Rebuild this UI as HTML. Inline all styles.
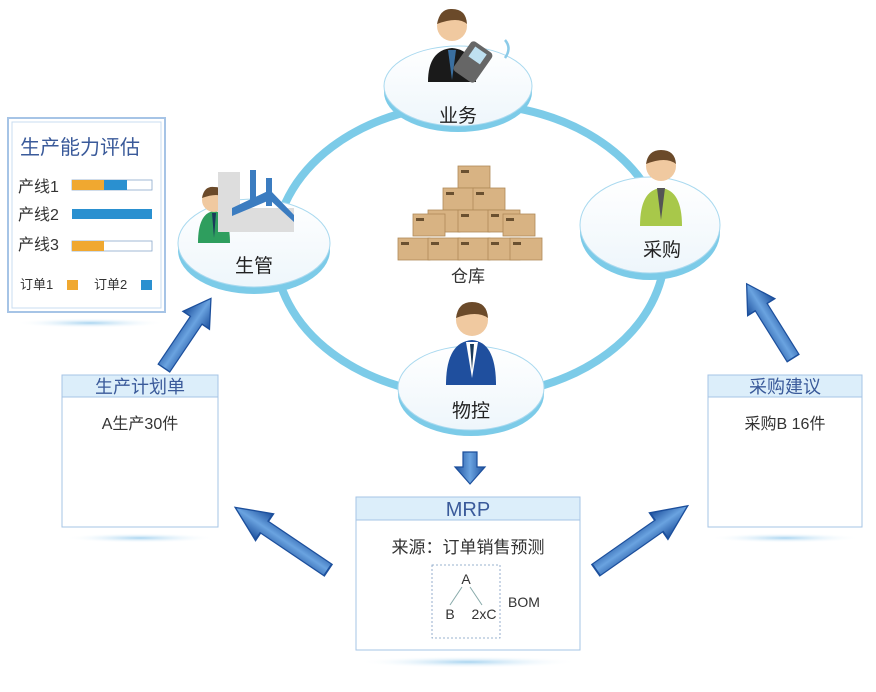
<!DOCTYPE html>
<html><head><meta charset="utf-8"><style>
body{margin:0;background:#fff;}
svg text{font-family:"Liberation Sans","Noto Sans CJK SC",sans-serif;}
</style></head><body>
<svg width="876" height="687" viewBox="0 0 876 687" xmlns="http://www.w3.org/2000/svg">
<defs>
<linearGradient id="arr" x1="0" y1="0" x2="1" y2="0">
<stop offset="0" stop-color="#1c4f9c"/><stop offset="0.5" stop-color="#6aa3e0"/><stop offset="1" stop-color="#1c4f9c"/>
</linearGradient>
<radialGradient id="sh"><stop offset="0" stop-color="#a8d4f0"/><stop offset="1" stop-color="#fff" stop-opacity="0"/></radialGradient>
<linearGradient id="disc" x1="0" y1="0" x2="0" y2="1"><stop offset="0" stop-color="#fff"/><stop offset="1" stop-color="#eef6fb"/></linearGradient>
<g id="arrow">
<polygon points="-7,0 7,0 7,-48 16,-48 0,-70 -16,-48 -7,-48" fill="url(#arr)" stroke="#1c4f9c" stroke-width="1.2"/>
</g>
<g id="box"><rect x="0" y="0" width="32" height="22" fill="#d8b383" stroke="#b08a58" stroke-width="0.8"/><rect x="3" y="4" width="8" height="3" fill="#6a5030"/></g>
</defs>

<!-- big ring -->
<ellipse cx="470" cy="250" rx="195" ry="146" fill="none" stroke="#7ccbe8" stroke-width="8"/>

<!-- shadows -->
<ellipse cx="90" cy="323" rx="75" ry="5" fill="url(#sh)"/>
<ellipse cx="140" cy="538" rx="75" ry="5" fill="url(#sh)"/>
<ellipse cx="785" cy="538" rx="75" ry="5" fill="url(#sh)"/>
<ellipse cx="468" cy="662" rx="110" ry="6" fill="url(#sh)"/>

<!-- discs -->
<g>
<ellipse cx="458" cy="92" rx="74" ry="40" fill="#7ccbe8"/><ellipse cx="458" cy="86" rx="74" ry="40" fill="url(#disc)" stroke="#a9d9ef"/>
<ellipse cx="254" cy="250" rx="76" ry="44" fill="#7ccbe8"/><ellipse cx="254" cy="243" rx="76" ry="44" fill="url(#disc)" stroke="#a9d9ef"/>
<ellipse cx="650" cy="232" rx="70" ry="48" fill="#7ccbe8"/><ellipse cx="650" cy="225" rx="70" ry="48" fill="url(#disc)" stroke="#a9d9ef"/>
<ellipse cx="471" cy="394" rx="73" ry="42" fill="#7ccbe8"/><ellipse cx="471" cy="388" rx="73" ry="42" fill="url(#disc)" stroke="#a9d9ef"/>
</g>
<text x="458" y="122" font-size="19" text-anchor="middle" fill="#222">业务</text>
<text x="254" y="272" font-size="19" text-anchor="middle" fill="#222">生管</text>
<text x="662" y="256" font-size="19" text-anchor="middle" fill="#222">采购</text>
<text x="471" y="417" font-size="19" text-anchor="middle" fill="#222">物控</text>

<!-- people -->
<g>
<path d="M428,82 Q428,50 452,48 Q476,50 476,82 Z" fill="#1a1a1a"/><circle cx="452" cy="26" r="15" fill="#f0c9a0"/><path d="M437,24 Q440,8 452,9 Q466,9 467,24 Q458,16 437,24Z" fill="#6b4a2a"/><polygon points="448,50 456,50 452,80" fill="#3a6fa0"/>
<rect x="460" y="44" width="26" height="36" rx="4" fill="#666" transform="rotate(35 473 62)"/><rect x="466" y="48" width="14" height="12" fill="#bfe0f0" transform="rotate(35 473 62)"/>
<path d="M505,40 Q512,48 505,58" stroke="#8ccbe8" stroke-width="2.5" fill="none"/>
</g>
<g>
<path d="M198,243 Q198,213 214,211 Q230,213 230,243 Z" fill="#2e9e5e"/><circle cx="214" cy="200" r="12" fill="#f0c9a0"/><path d="M202,198 Q204,186 214,187 Q226,187 226,198 Q218,192 202,198Z" fill="#6b4a2a"/><polygon points="212,213 216,213 214,238" fill="#1a3a5a"/>
<rect x="218" y="172" width="22" height="60" fill="#ddd"/><rect x="232" y="208" width="62" height="24" fill="#ddd"/><polygon points="232,208 270,190 294,215 294,222 270,200 232,216" fill="#3b7cc0"/>
<rect x="250" y="170" width="6" height="35" fill="#3b7cc0"/><rect x="266" y="178" width="6" height="28" fill="#3b7cc0"/>
</g>
<g>
<path d="M640,226 Q640,190 661,188 Q682,190 682,226 Z" fill="#a8c84a"/><circle cx="661" cy="166" r="15" fill="#f0c9a0"/><path d="M646,164 Q648,150 661,150 Q675,150 676,164 Q666,156 646,164Z" fill="#6b4a2a"/><polygon points="657,188 665,188 661,220" fill="#555"/>
</g>
<g>
<path d="M446,385 Q446,342 472,340 Q496,342 496,385 Z" fill="#1f4f9e"/><circle cx="472" cy="320" r="16" fill="#f0c9a0"/><path d="M456,318 Q458,302 472,302 Q487,302 488,318 Q477,310 456,318Z" fill="#6b4a2a"/><polygon points="466,342 478,342 472,378" fill="#fff"/><polygon points="470,344 474,344 472,370" fill="#1a3a5a"/>
</g>

<!-- warehouse boxes -->
<g>
<use href="#box" x="458" y="166"/>
<use href="#box" x="443" y="188"/><use href="#box" x="473" y="188"/>
<use href="#box" x="428" y="210"/><use href="#box" x="458" y="210"/><use href="#box" x="488" y="210"/>
<use href="#box" x="413" y="214"/><use href="#box" x="503" y="214"/>
<use href="#box" x="398" y="238"/><use href="#box" x="428" y="238"/><use href="#box" x="458" y="238"/><use href="#box" x="488" y="238"/><use href="#box" x="510" y="238"/>
</g>
<text x="468" y="282" font-size="17" text-anchor="middle" fill="#333">仓库</text>

<!-- capability panel -->
<rect x="8" y="118" width="157" height="194" fill="#fff" stroke="#a6c4e6" stroke-width="2"/>
<rect x="12" y="122" width="149" height="186" fill="none" stroke="#c8dcf0"/>
<text x="20" y="154" font-size="20" fill="#3a5a9a">生产能力评估</text>
<text x="18" y="192" font-size="16" fill="#333">产线1</text>
<rect x="72" y="180" width="80" height="10" fill="#fff" stroke="#8aa8cc" stroke-width="0.8"/><rect x="72" y="180" width="32" height="10" fill="#f0a830"/><rect x="104" y="180" width="23" height="10" fill="#2a90d0"/>
<text x="18" y="220" font-size="16" fill="#333">产线2</text>
<rect x="72" y="209" width="80" height="10" fill="#2a90d0"/>
<text x="18" y="250" font-size="16" fill="#333">产线3</text>
<rect x="72" y="241" width="80" height="10" fill="#fff" stroke="#8aa8cc" stroke-width="0.8"/><rect x="72" y="241" width="32" height="10" fill="#f0a830"/>
<text x="20" y="289" font-size="13" fill="#333">订单1</text><rect x="67" y="280" width="11" height="10" fill="#f0a830"/>
<text x="94" y="289" font-size="13" fill="#333">订单2</text><rect x="141" y="280" width="11" height="10" fill="#2a90d0"/>

<!-- plan box -->
<rect x="62" y="375" width="156" height="152" fill="#fff" stroke="#a6c4e6"/>
<rect x="62" y="375" width="156" height="22" fill="#dceefa" stroke="#a6c4e6"/>
<text x="140" y="393" font-size="18" text-anchor="middle" fill="#3a5a9a">生产计划单</text>
<text x="140" y="429" font-size="16" text-anchor="middle" fill="#333">A生产30件</text>

<!-- purchase box -->
<rect x="708" y="375" width="154" height="152" fill="#fff" stroke="#a6c4e6"/>
<rect x="708" y="375" width="154" height="22" fill="#dceefa" stroke="#a6c4e6"/>
<text x="785" y="393" font-size="18" text-anchor="middle" fill="#3a5a9a">采购建议</text>
<text x="785" y="429" font-size="16" text-anchor="middle" fill="#333">采购B 16件</text>

<!-- MRP box -->
<rect x="356" y="497" width="224" height="153" fill="#fff" stroke="#a6c4e6"/>
<rect x="356" y="497" width="224" height="23" fill="#dceefa" stroke="#a6c4e6"/>
<text x="468" y="516" font-size="20" text-anchor="middle" fill="#3a5a9a">MRP</text>
<text x="468" y="553" font-size="17" text-anchor="middle" fill="#333">来源：订单销售预测</text>
<rect x="432" y="565" width="68" height="73" fill="none" stroke="#7a9ac0" stroke-dasharray="2,2" stroke-width="0.8"/>
<text x="466" y="584" font-size="14" text-anchor="middle" fill="#333">A</text>
<line x1="462" y1="587" x2="450" y2="605" stroke="#8aa" /><line x1="470" y1="587" x2="482" y2="605" stroke="#8aa"/>
<text x="450" y="619" font-size="14" text-anchor="middle" fill="#333">B</text>
<text x="484" y="619" font-size="14" text-anchor="middle" fill="#333">2xC</text>
<text x="508" y="607" font-size="14" fill="#333">BOM</text>

<!-- arrows -->
<use href="#arrow" transform="translate(164,368) rotate(34) scale(1,1.2)"/>
<use href="#arrow" transform="translate(328,570) rotate(-56) scale(1,1.6)"/>
<use href="#arrow" transform="translate(793,358) rotate(-32) scale(1,1.25)"/>
<use href="#arrow" transform="translate(596,570) rotate(55) scale(1,1.6)"/>
<polygon points="463,452 477,452 477,467 485,467 470,484 455,467 463,467" fill="url(#arr)" stroke="#1c4f9c" stroke-width="1.2"/>
</svg>
</body></html>
